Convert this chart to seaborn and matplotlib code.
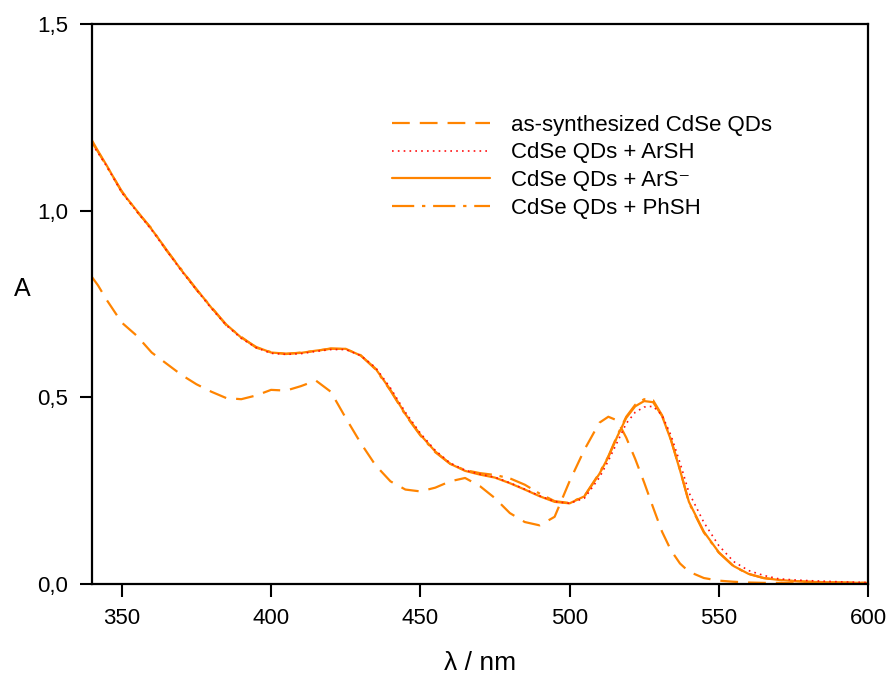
import matplotlib
matplotlib.use("Agg")
import matplotlib.pyplot as plt
import seaborn as sns
import pandas as pd

# Wavelength grid (nm)
wavelength = [340, 342, 345, 350, 355, 360, 365, 370, 375, 380, 385, 390, 395,
              400, 405, 410, 415, 420, 425, 430, 435, 440, 445, 450, 455, 460,
              465, 470, 475, 480, 485, 490, 495, 500, 505, 510, 513, 516, 519,
              522, 525, 528, 531, 534, 537, 540, 545, 550, 555, 560, 565, 570,
              575, 580, 590, 600]

# Absorbance spectra
as_synth = [0.822, 0.800, 0.760, 0.700, 0.665, 0.620, 0.590, 0.560, 0.535, 0.515,
            0.498, 0.495, 0.505, 0.520, 0.518, 0.530, 0.545, 0.515, 0.445, 0.378,
            0.318, 0.275, 0.253, 0.248, 0.258, 0.275, 0.284, 0.262, 0.230, 0.190,
            0.166, 0.157, 0.180, 0.275, 0.360, 0.432, 0.448, 0.438, 0.392, 0.335,
            0.272, 0.205, 0.140, 0.090, 0.055, 0.033, 0.016, 0.009, 0.006, 0.004,
            0.003, 0.003, 0.002, 0.002, 0.002, 0.002]

arsh = [1.178, 1.155, 1.118, 1.048, 0.998, 0.948, 0.893, 0.838, 0.788, 0.738,
        0.693, 0.658, 0.633, 0.618, 0.615, 0.617, 0.623, 0.628, 0.628, 0.612,
        0.580, 0.525, 0.460, 0.404, 0.358, 0.324, 0.305, 0.294, 0.286, 0.271,
        0.254, 0.236, 0.221, 0.216, 0.230, 0.285, 0.330, 0.380, 0.430, 0.460,
        0.474, 0.476, 0.452, 0.398, 0.325, 0.245, 0.165, 0.103, 0.060, 0.036,
        0.023, 0.014, 0.011, 0.009, 0.006, 0.004]

ars_minus = [1.188, 1.160, 1.120, 1.050, 1.000, 0.950, 0.895, 0.840, 0.790, 0.740,
             0.695, 0.660, 0.635, 0.620, 0.617, 0.619, 0.625, 0.630, 0.630, 0.612,
             0.577, 0.520, 0.455, 0.400, 0.355, 0.322, 0.303, 0.293, 0.285, 0.270,
             0.253, 0.235, 0.220, 0.216, 0.235, 0.295, 0.340, 0.395, 0.445, 0.476,
             0.490, 0.487, 0.450, 0.385, 0.305, 0.220, 0.140, 0.085, 0.048, 0.027,
             0.016, 0.011, 0.008, 0.006, 0.004, 0.003]

phsh = [1.183, 1.158, 1.118, 1.052, 0.998, 0.952, 0.893, 0.842, 0.788, 0.742,
        0.693, 0.662, 0.633, 0.621, 0.616, 0.620, 0.624, 0.631, 0.629, 0.613,
        0.575, 0.518, 0.453, 0.398, 0.353, 0.322, 0.305, 0.297, 0.292, 0.283,
        0.266, 0.242, 0.222, 0.217, 0.236, 0.297, 0.342, 0.398, 0.448, 0.480,
        0.495, 0.492, 0.452, 0.386, 0.306, 0.218, 0.138, 0.084, 0.047, 0.027,
        0.016, 0.011, 0.008, 0.006, 0.004, 0.003]

labels = ["as-synthesized CdSe QDs", "CdSe QDs + ArSH",
          "CdSe QDs + ArS\u207b", "CdSe QDs + PhSH"]

orange = "#ff8400"

sns.set_style("ticks")
plt.rcParams["font.family"] = ["Liberation Sans", "DejaVu Sans"]
plt.rcParams["text.color"] = "black"
plt.rcParams["axes.labelcolor"] = "black"

fig = plt.figure(figsize=(8.92, 6.79), dpi=100)
ax = fig.add_axes([92 / 892, 1 - 584 / 679, 776 / 892, 560 / 679])

df = pd.DataFrame({"wl": wavelength, "s0": as_synth, "s1": arsh,
                   "s2": ars_minus, "s3": phsh})

styles = {
    "s0": dict(color=orange, lw=1.6, linestyle=(0, (8, 4.5))),
    "s1": dict(color="#ff1010", lw=1.2, linestyle=(0, (1, 2.5))),
    "s2": dict(color=orange, lw=1.6, linestyle="-"),
    "s3": dict(color=orange, lw=1.6, linestyle=(0, (10, 3.5, 1.5, 3.5))),
}

handles = {}
for key in ["s0", "s3", "s2", "s1"]:
    sns.lineplot(data=df, x="wl", y=key, ax=ax, estimator=None, sort=False,
                 **styles[key])
    handles[key] = ax.lines[-1]

ax.set_xlim(340, 600)
ax.set_ylim(0, 1.5)
ax.set_xticks([350, 400, 450, 500, 550, 600])
ax.set_yticks([0.0, 0.5, 1.0, 1.5])
ax.set_yticklabels(["0,0", "0,5", "1,0", "1,5"])

for side in ["left", "right", "top", "bottom"]:
    ax.spines[side].set_visible(True)
    ax.spines[side].set_linewidth(1.6)
    ax.spines[side].set_color("black")

ax.tick_params(axis="both", direction="out", length=9, width=1.5,
               labelsize=16, colors="black", labelcolor="black", pad=8)
ax.tick_params(top=False, right=False)

ax.set_xlabel("λ / nm", fontsize=19, labelpad=16)
ax.set_ylabel("A", fontsize=18, rotation=0)
ax.yaxis.set_label_coords(-0.090, 0.505)

leg = ax.legend([handles["s0"], handles["s1"], handles["s2"], handles["s3"]],
                labels, loc="upper left", bbox_to_anchor=(0.387, 0.838),
                frameon=False, fontsize=16, handlelength=4.4,
                handletextpad=0.95, labelspacing=0.3, borderpad=0,
                borderaxespad=0)

fig.savefig("out.png", dpi=100)
